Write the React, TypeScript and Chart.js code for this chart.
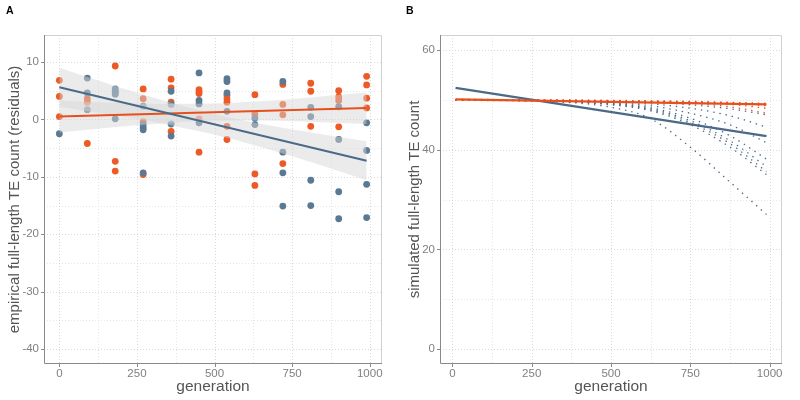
import { useEffect, useRef } from "react";
import Chart from "chart.js/auto";

const FONT = "'Liberation Sans', Arial, sans-serif";
const BLUE_PT = "#5a7993";
const BLUE_LN = "#4b6a87";
const ORANGE_PT = "#ee5a26";
const ORANGE_LN = "#e6501c";
const RIBBON = "rgba(213,213,213,0.48)";

// ---- panel A: empirical residuals ----
const gensA = [0, 90, 180, 270, 360, 450, 540, 630, 720, 810, 900, 990];

const blueResid: number[][] = [
  [-2.5],
  [7.2, 4.6, 1.7],
  [5.3, 5.0, 4.7, 4.4, 0.1],
  [2.3, -0.9, -1.4, -1.8, -9.3],
  [4.9, 2.6, -0.8, -2.9],
  [8.1, 3.3, 2.7, -0.6],
  [7.1, 6.6, 4.6, 1.4],
  [0.2, -0.9],
  [6.6, -5.7, -9.3, -15.1],
  [2.1, 0.5, -10.6, -15.0],
  [2.2, -3.5, -12.6, -17.3],
  [-0.6, -5.4, -11.3, -17.1],
];

const orangeResid: number[][] = [
  [6.8, 4.0, 0.5],
  [3.6, 3.0, -4.2],
  [9.3, -7.3, -9.0],
  [5.3, 3.6, -0.4, -9.6],
  [7.0, 5.5, 3.0, -2.1],
  [5.2, 4.8, 4.5, 0.1, -5.7],
  [4.2, 3.6, 3.0, -1.2, -3.5],
  [4.3, 0.9, -9.5, -11.5],
  [6.1, 2.6, 0.8, -7.7],
  [6.3, 4.9, -1.2],
  [5.0, 3.9, 3.3, -1.3],
  [7.5, 6.0, 3.7, 2.0],
];

const fitGens = [0, 990];
const blueFit = [5.6, -7.2];
const orangeFit = [0.5, 2.0];

const bandGens = [0, 165, 330, 495, 660, 825, 990];
const blueUpper = [9.0, 6.1, 3.4, 1.0, -0.9, -2.4, -3.8];
const blueLower = [2.2, 0.8, -0.7, -2.6, -5.0, -7.7, -10.6];
const orangeUpper = [3.3, 2.9, 2.7, 2.75, 3.2, 3.9, 4.7];
const orangeLower = [-2.3, -1.4, -0.7, -0.25, -0.2, -0.45, -0.8];

// ---- panel B: simulations ----
const simGens = [10, 990];
const blueSim = [52.4, 42.7];
const orangeSim = [50.1, 49.1];

const trajGens = [10, 250, 500, 625, 750, 875, 990];
const blueTraj: number[][] = [
  [50, 49.8, 48.5, 46.2, 40.5, 33.5, 27.0],
  [50, 49.8, 49.0, 47.8, 45.0, 40.5, 35.0],
  [50, 49.8, 49.1, 48.0, 45.4, 41.2, 35.6],
  [50, 49.8, 49.2, 48.2, 45.8, 41.8, 36.6],
  [50, 49.9, 49.3, 48.4, 46.3, 42.8, 38.1],
  [50, 49.9, 49.4, 48.8, 47.3, 45.0, 41.4],
  [50, 49.9, 49.6, 49.2, 48.3, 46.8, 44.5],
  [50, 49.9, 49.7, 49.5, 49.0, 48.2, 47.0],
];
const orangeTraj: number[][] = [
  [50, 49.9, 49.8, 49.6, 49.3, 48.6, 47.3],
  [50, 49.9, 49.8, 49.7, 49.5, 49.1, 48.3],
  [50, 50, 49.8, 49.7, 49.6, 49.4, 49.0],
  [50.1, 50, 49.9, 49.8, 49.7, 49.5, 49.3],
  [49.9, 49.8, 49.7, 49.6, 49.5, 49.3, 48.8],
];

const xMajor = [0, 250, 500, 750, 1000];
const xMinor = [125, 375, 625, 875];
const yMajorA = [-40, -30, -20, -10, 0, 10];
const yMinorA = [-35, -25, -15, -5, 5];
const yMajorB = [0, 20, 40, 60];
const yMinorB = [10, 30, 50];

const pts = (xs: number[], ys: number[]) => xs.map((x, i) => ({ x, y: ys[i] }));
const scatterPts = (groups: number[][]) =>
  groups.flatMap((g, i) => g.map((y) => ({ x: gensA[i], y })));

const panelPlugin = (label: string, yMajor: number[], yMinor: number[]) => ({
  id: "panel" + label,
  beforeDatasetsDraw(chart: any) {
    const { ctx, chartArea: a, scales } = chart;
    const x = scales.x;
    const y = scales.y;
    ctx.save();
    ctx.lineWidth = 0.8;
    ctx.setLineDash([1, 2]);
    const vline = (v: number, c: string) => {
      const px = Math.round(x.getPixelForValue(v)) + 0.5;
      ctx.strokeStyle = c;
      ctx.beginPath();
      ctx.moveTo(px, a.top);
      ctx.lineTo(px, a.bottom);
      ctx.stroke();
    };
    const hline = (v: number, c: string) => {
      const py = Math.round(y.getPixelForValue(v)) + 0.5;
      ctx.strokeStyle = c;
      ctx.beginPath();
      ctx.moveTo(a.left, py);
      ctx.lineTo(a.right, py);
      ctx.stroke();
    };
    xMinor.forEach((v) => vline(v, "#e0e0e0"));
    yMinor.forEach((v) => hline(v, "#e0e0e0"));
    xMajor.forEach((v) => vline(v, "#cfcfcf"));
    yMajor.forEach((v) => hline(v, "#cfcfcf"));
    ctx.restore();
  },
  afterDatasetsDraw(chart: any) {
    const { ctx, chartArea: a, scales } = chart;
    ctx.save();
    ctx.lineWidth = 1;
    ctx.strokeStyle = "#d0d0d0";
    ctx.beginPath();
    ctx.moveTo(a.left, a.top + 0.5);
    ctx.lineTo(a.right - 0.5, a.top + 0.5);
    ctx.lineTo(a.right - 0.5, a.bottom);
    ctx.stroke();
    ctx.strokeStyle = "#8a8a8a";
    ctx.beginPath();
    ctx.moveTo(a.left + 0.5, a.top);
    ctx.lineTo(a.left + 0.5, a.bottom - 0.5);
    ctx.lineTo(a.right, a.bottom - 0.5);
    xMajor.forEach((v) => {
      const px = Math.round(scales.x.getPixelForValue(v)) + 0.5;
      ctx.moveTo(px, a.bottom);
      ctx.lineTo(px, a.bottom + 3);
    });
    yMajor.forEach((v) => {
      const py = Math.round(scales.y.getPixelForValue(v)) + 0.5;
      ctx.moveTo(a.left, py);
      ctx.lineTo(a.left - 3, py);
    });
    ctx.stroke();
    ctx.restore();
  },
  afterDraw(chart: any) {
    const { ctx } = chart;
    ctx.save();
    ctx.fillStyle = "#000";
    ctx.font = `bold 10.5px ${FONT}`;
    ctx.textBaseline = "alphabetic";
    ctx.fillText(label, 6, 14);
    ctx.restore();
  },
});

const axisScales = (
  xMin: number,
  xMax: number,
  yMin: number,
  yMax: number,
  yMajor: number[],
  yTitle: string,
  yWidth: number
) => ({
  x: {
    type: "linear",
    min: xMin,
    max: xMax,
    afterBuildTicks: (s: any) => {
      s.ticks = xMajor.map((value) => ({ value }));
    },
    afterFit: (s: any) => {
      s.height = 32;
    },
    grid: { display: false, drawTicks: false },
    border: { display: false },
    ticks: {
      color: "#7f7f7f",
      padding: 3,
      font: { family: FONT, size: 11.5 },
      callback: (v: any) => String(v),
    },
    title: {
      display: true,
      text: "generation",
      color: "#555",
      padding: { top: 0, bottom: 0 },
      font: { family: FONT, size: 15.5 },
    },
  },
  y: {
    type: "linear",
    min: yMin,
    max: yMax,
    afterBuildTicks: (s: any) => {
      s.ticks = yMajor.map((value) => ({ value }));
    },
    afterFit: (s: any) => {
      s.width = yWidth;
    },
    grid: { display: false, drawTicks: false },
    border: { display: false },
    ticks: {
      color: "#7f7f7f",
      padding: 5,
      font: { family: FONT, size: 11.5 },
      callback: (v: any) => String(v),
    },
    title: {
      display: true,
      text: yTitle,
      color: "#555",
      padding: { top: 0, bottom: 0 },
      font: { family: FONT, size: 15 },
    },
  },
});

const lineDs = (data: any[], color: string, order: number, width = 2) => ({
  data,
  borderColor: color,
  borderWidth: width,
  pointRadius: 0,
  fill: false,
  order,
});

const bandDs = (xs: number[], ys: number[], fill: any) => ({
  data: pts(xs, ys),
  borderColor: "transparent",
  borderWidth: 0,
  backgroundColor: RIBBON,
  pointRadius: 0,
  cubicInterpolationMode: "monotone",
  fill,
  order: 2,
});

const dotDs = (ys: number[], color: string, order: number) => ({
  data: pts(trajGens, ys),
  borderColor: color,
  borderWidth: 1.3,
  borderDash: [1.4, 4.9],
  borderCapStyle: "butt",
  pointRadius: 0,
  cubicInterpolationMode: "monotone",
  fill: false,
  order,
});

const baseOptions = (scales: any) => ({
  responsive: true,
  maintainAspectRatio: false,
  animation: false,
  layout: { padding: { top: 35, right: 18, bottom: 4, left: 6 } },
  plugins: { legend: { display: false }, tooltip: { enabled: false } },
  scales,
});

const PanelA = () => {
  const ref = useRef<HTMLCanvasElement | null>(null);
  useEffect(() => {
    const ctx = ref.current?.getContext("2d");
    if (!ctx) return;
    const chart = new Chart(ctx, {
      type: "line",
      data: {
        datasets: [
          lineDs(pts(fitGens, blueFit), BLUE_LN, 1),
          lineDs(pts(fitGens, orangeFit), ORANGE_LN, 1),
          bandDs(bandGens, blueUpper, "+1"),
          bandDs(bandGens, blueLower, false),
          bandDs(bandGens, orangeUpper, "+1"),
          bandDs(bandGens, orangeLower, false),
          {
            data: scatterPts(blueResid),
            showLine: false,
            pointRadius: 3.4,
            pointBorderWidth: 0,
            pointBackgroundColor: BLUE_PT,
            order: 3,
          },
          {
            data: scatterPts(orangeResid),
            showLine: false,
            pointRadius: 3.4,
            pointBorderWidth: 0,
            pointBackgroundColor: ORANGE_PT,
            order: 3,
          },
        ] as any,
      },
      options: baseOptions(
        axisScales(-49.5, 1039.5, -42.6, 14.7, yMajorA, "empirical full-length TE count (residuals)", 38)
      ) as any,
      plugins: [panelPlugin("A", yMajorA, yMinorA)],
    });
    return () => chart.destroy();
  }, []);
  return <canvas ref={ref} />;
};

const PanelB = () => {
  const ref = useRef<HTMLCanvasElement | null>(null);
  useEffect(() => {
    const ctx = ref.current?.getContext("2d");
    if (!ctx) return;
    const chart = new Chart(ctx, {
      type: "line",
      data: {
        datasets: [
          lineDs(pts(simGens, orangeSim), ORANGE_LN, 0, 2.2),
          lineDs(pts(simGens, blueSim), BLUE_LN, 1, 2.2),
          ...orangeTraj.map((t) => dotDs(t, ORANGE_LN, 2)),
          ...blueTraj.map((t) => dotDs(t, BLUE_LN, 3)),
        ] as any,
      },
      options: baseOptions(
        axisScales(-39, 1039, -3, 63, yMajorB, "simulated full-length TE count", 34)
      ) as any,
      plugins: [panelPlugin("B", yMajorB, yMinorB)],
    });
    return () => chart.destroy();
  }, []);
  return <canvas ref={ref} />;
};

export default function App() {
  return (
    <div
      style={{
        position: "fixed",
        left: 0,
        top: 0,
        width: 800,
        height: 400,
        display: "flex",
        background: "#fff",
      }}
    >
      <div style={{ position: "relative", width: 400, height: 400 }}>
        <PanelA />
      </div>
      <div style={{ position: "relative", width: 400, height: 400 }}>
        <PanelB />
      </div>
    </div>
  );
}
